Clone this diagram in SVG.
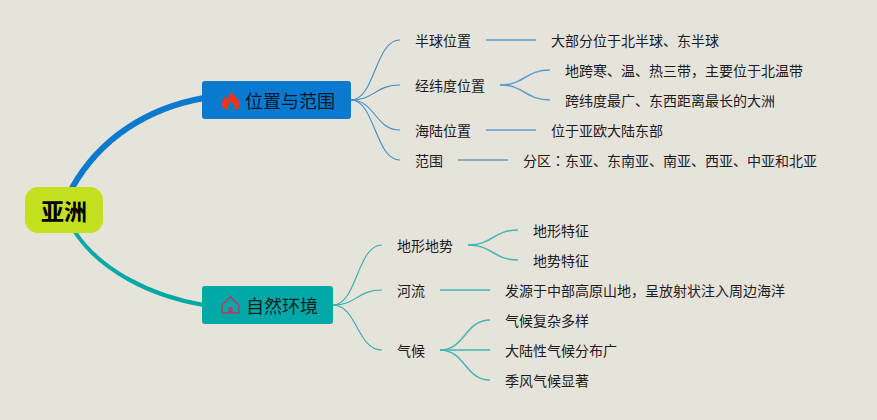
<svg xmlns="http://www.w3.org/2000/svg" width="877" height="420" viewBox="0 0 877 420">
<style>
text{font-family:"Noto Sans CJK SC","Noto Sans",sans-serif;fill:#1c1c1c;font-size:14px}
.c{fill:none}
.b{stroke:#3d8fc6;stroke-width:1.1}
.t{stroke:#2fb0aa;stroke-width:1.1}
.bt{stroke:#5a9fcc;stroke-width:1.5}
.tt{stroke:#45b7b2;stroke-width:1.5}
.h{font-size:18px;fill:#08182a}
</style>
<rect width="877" height="420" fill="#e6e3db"/>
<g id="connectors">
<path class="c" d="M72 188C100 138 148 108 204 98" stroke="#0a7ad0" stroke-width="6"/>
<path class="c" d="M75 232C100 270 150 296 204 305" stroke="#00a9a5" stroke-width="4"/>
<path class="c b" d="M351 100C375 100 375 40 400 40"/>
<path class="c b" d="M351 100C375 100 375 85 400 85"/>
<path class="c b" d="M351 100C375 100 375 130 400 130"/>
<path class="c b" d="M351 100C375 100 375 160 400 160"/>
<path class="c bt" d="M486 40H536"/>
<path class="c bt" d="M500 85C525 85 525 70 550 70"/>
<path class="c bt" d="M500 85C525 85 525 100 550 100"/>
<path class="c bt" d="M486 130H536"/>
<path class="c bt" d="M458 160H508"/>
<path class="c t" d="M333 305C357 305 357 245 382 245"/>
<path class="c t" d="M333 305C357 305 357 290 382 290"/>
<path class="c t" d="M333 305C357 305 357 350 382 350"/>
<path class="c tt" d="M468 245C493 245 493 230 518 230"/>
<path class="c tt" d="M468 245C493 245 493 260 518 260"/>
<path class="c tt" d="M440 290H490"/>
<path class="c tt" d="M440 350C465 350 465 320 490 320"/>
<path class="c tt" d="M440 350H490"/>
<path class="c tt" d="M440 350C465 350 465 380 490 380"/>
</g>
<g id="root"><rect x="25" y="187" width="78" height="46" rx="13" fill="#c4e01e"/><text x="64" y="220" text-anchor="middle" style="font-size:23px;font-weight:700;fill:#000">亚洲</text></g>
<g id="n-location"><rect x="202" y="81" width="149" height="38" rx="3" fill="#0a7ad0"/>
<path d="M231 90C232 95 239.500 98 239.500 104C239.500 108 237 110 234.500 110C235.500 106 233 104 231 101C229.500 104 227 106 228 110C225 110 222 108 222 103C222 100 224 98 225 95.500C226 97.500 226 98.500 227 100C229 97 231 94 231 90Z" fill="#f0341a"/>
<text class="h" x="245" y="108">位置与范围</text></g>
<g id="n-nature"><rect x="202" y="286" width="131" height="38" rx="3" fill="#00a9a5"/>
<path d="M222 305L230.500 297L239 305V313H222Z" fill="none" stroke="#b83a62" stroke-width="1.500"/><rect x="228.500" y="307" width="4" height="6" fill="#b83a62"/>
<text class="h" x="246" y="313" style="fill:#08201f">自然环境</text></g>
<g id="n1"><text x="415" y="46">半球位置</text></g>
<g id="n1a"><text x="551" y="46">大部分位于北半球、东半球</text></g>
<g id="n2"><text x="415" y="91">经纬度位置</text></g>
<g id="n2a"><text x="565" y="76">地跨寒、温、热三带，主要位于北温带</text></g>
<g id="n2b"><text x="565" y="106">跨纬度最广、东西距离最长的大洲</text></g>
<g id="n3"><text x="415" y="136">海陆位置</text></g>
<g id="n3a"><text x="551" y="136">位于亚欧大陆东部</text></g>
<g id="n4"><text x="415" y="166">范围</text></g>
<g id="n4a"><text x="523" y="166">分区<tspan style="font-family:'Noto Sans CJK TC',sans-serif">：</tspan>东亚、东南亚、南亚、西亚、中亚和北亚</text></g>
<g id="n5"><text x="397" y="251">地形地势</text></g>
<g id="n5a"><text x="533" y="236">地形特征</text></g>
<g id="n5b"><text x="533" y="266">地势特征</text></g>
<g id="n6"><text x="397" y="296">河流</text></g>
<g id="n6a"><text x="505" y="296">发源于中部高原山地，呈放射状注入周边海洋</text></g>
<g id="n7"><text x="397" y="356">气候</text></g>
<g id="n7a"><text x="505" y="326">气候复杂多样</text></g>
<g id="n7b"><text x="505" y="356">大陆性气候分布广</text></g>
<g id="n7c"><text x="505" y="386">季风气候显著</text></g>
</svg>
